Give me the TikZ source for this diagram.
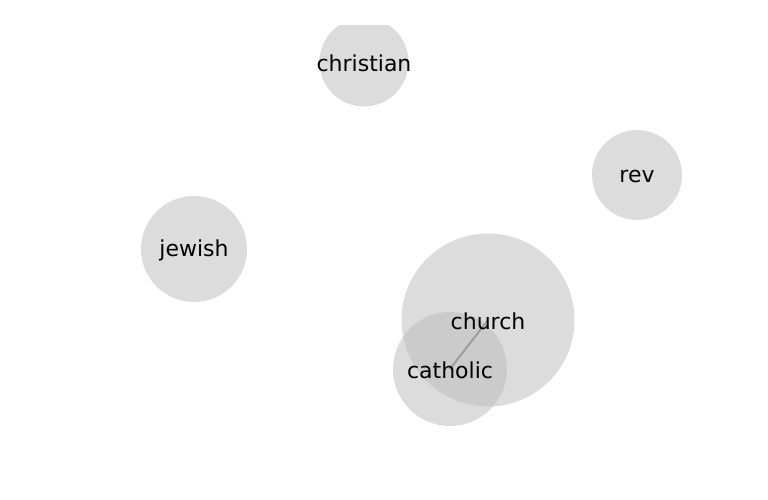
\documentclass[tikz,border=0pt]{standalone}
\usepackage{fontspec}
\setmainfont{DejaVu Sans}
\begin{document}
\begin{tikzpicture}[x=1pt,y=-1pt,
  bubble/.style={circle,fill={rgb,255:red,187;green,187;blue,187},fill opacity=0.5,inner sep=0pt},
  lbl/.style={font=\fontsize{22}{24}\selectfont,text=black,inner sep=0pt,yshift=-1.5pt},
  link/.style={draw={rgb,255:red,128;green,128;blue,128},draw opacity=0.6,line width=2pt}]
\useasboundingbox[fill=white] (0,0) rectangle (768,500);
\begin{scope}
\clip (0,26) rectangle (768,500);
\node[bubble,minimum size=89pt] (cchristian) at (364,62) {};
\node[bubble,minimum size=90pt] (crev) at (637,175) {};
\node[bubble,minimum size=106pt] (cjewish) at (194,249) {};
\node[bubble,minimum size=173pt] (cchurch) at (488,320) {};
\node[bubble,minimum size=114pt] (ccatholic) at (450,369) {};
\end{scope}
\coordinate (pchurch) at (488,320);
\coordinate (pcatholic) at (450,369);
\draw[link] (pchurch) -- (pcatholic);
\node[lbl] (tchristian) at (364,62) {christian};
\node[lbl] (trev) at (637,175) {rev};
\node[lbl] (tjewish) at (194,249) {jewish};
\node[lbl] (tchurch) at (488,320) {church};
\node[lbl] (tcatholic) at (450,369) {catholic};
\end{tikzpicture}
\end{document}
